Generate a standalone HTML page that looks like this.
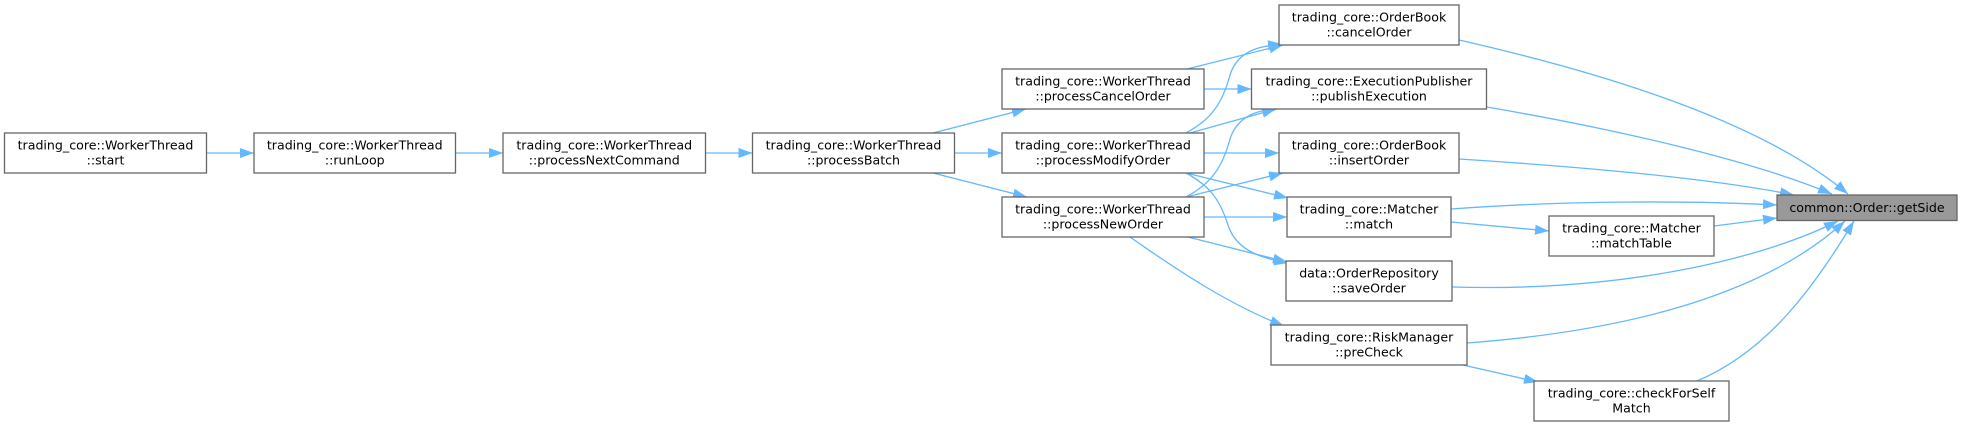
<!DOCTYPE html>
<html><head><meta charset="utf-8"><style>
html,body{margin:0;padding:0;background:#fff;}
svg{display:block;}
text{font-family:"DejaVu Sans","Liberation Sans",sans-serif;font-size:12.6px;fill:#000;text-anchor:middle;}
.b{fill:#fff;stroke:#666;stroke-width:1.3;}
.e{fill:none;stroke:#63b8ff;stroke-width:1.3;marker-end:url(#a);}
</style></head><body>
<svg width="1963" height="427" viewBox="0 0 1963 427" xmlns="http://www.w3.org/2000/svg">
<defs><marker id="a" markerUnits="userSpaceOnUse" markerWidth="15" markerHeight="11" refX="14" refY="5.5" orient="auto"><path d="M0,0.5 L14,5.5 L0,10.5z" fill="#63b8ff"/></marker></defs>

<!-- edges -->
<path class="e" d="M206.5,153 L254,153"/>
<path class="e" d="M455.5,153 L503,153"/>
<path class="e" d="M705.5,153 L752.5,153"/>
<path class="e" d="M933,133 L1026,109"/>
<path class="e" d="M954.5,153 L1002,153"/>
<path class="e" d="M933,173 L1027,197"/>
<path class="e" d="M1187,69 L1283,45"/>
<path class="e" d="M1204,89 L1251.5,89"/>
<path class="e" d="M1186,133 C1210,120 1222,105 1230,75 C1238,50 1260,46 1282,44"/>
<path class="e" d="M1190,133 L1276,109"/>
<path class="e" d="M1204,153 L1279,153"/>
<path class="e" d="M1186,173 L1288,198"/>
<path class="e" d="M1186,173 C1210,186 1220,200 1228,225 C1236,250 1260,258 1288,263"/>
<path class="e" d="M1186,197 C1210,184 1222,169 1230,139 C1238,114 1260,110 1280,108"/>
<path class="e" d="M1186,197 L1283,173"/>
<path class="e" d="M1204,217 L1287,217"/>
<path class="e" d="M1188,237 L1287,262"/>
<path class="e" d="M1130,237 C1180,272 1230,305 1284,326"/>

<path class="e" d="M1459,40 C1600,72 1760,120 1848,194"/>
<path class="e" d="M1487,107 C1620,130 1750,160 1832,194"/>
<path class="e" d="M1459,159 C1600,168 1720,180 1794,195"/>
<path class="e" d="M1451,209 C1560,201 1680,200 1777,205"/>
<path class="e" d="M1714,226 L1777,218"/>
<path class="e" d="M1451,222 L1549,231"/>
<path class="e" d="M1452,287 C1620,292 1760,260 1838,221"/>
<path class="e" d="M1467,343 C1640,330 1770,290 1845,221"/>
<path class="e" d="M1697,381 C1770,350 1815,285 1854,221"/>
<path class="e" d="M1463,365 L1538,382"/>

<!-- nodes -->
<rect class="b" x="4.5" y="133" width="202" height="40"/>
<text x="105.5" y="149.5">trading_core::WorkerThread</text><text x="105.5" y="164.5">::start</text>

<rect class="b" x="254" y="133" width="201.5" height="40"/>
<text x="354.75" y="149.5">trading_core::WorkerThread</text><text x="354.75" y="164.5">::runLoop</text>

<rect class="b" x="503" y="133" width="202.5" height="40"/>
<text x="604.25" y="149.5">trading_core::WorkerThread</text><text x="604.25" y="164.5">::processNextCommand</text>

<rect class="b" x="752.5" y="133" width="202" height="40"/>
<text x="853.5" y="149.5">trading_core::WorkerThread</text><text x="853.5" y="164.5">::processBatch</text>

<rect class="b" x="1002" y="69" width="202" height="40"/>
<text x="1103" y="85.5">trading_core::WorkerThread</text><text x="1103" y="100.5">::processCancelOrder</text>

<rect class="b" x="1002" y="133" width="202" height="40"/>
<text x="1103" y="149.5">trading_core::WorkerThread</text><text x="1103" y="164.5">::processModifyOrder</text>

<rect class="b" x="1002" y="197" width="202" height="40"/>
<text x="1103" y="213.5">trading_core::WorkerThread</text><text x="1103" y="228.5">::processNewOrder</text>

<rect class="b" x="1279" y="5" width="180" height="40"/>
<text x="1369" y="21.5">trading_core::OrderBook</text><text x="1369" y="36.5">::cancelOrder</text>

<rect class="b" x="1251.5" y="69" width="235" height="40"/>
<text x="1369" y="85.5">trading_core::ExecutionPublisher</text><text x="1369" y="100.5">::publishExecution</text>

<rect class="b" x="1279" y="133" width="180" height="40"/>
<text x="1369" y="149.5">trading_core::OrderBook</text><text x="1369" y="164.5">::insertOrder</text>

<rect class="b" x="1287" y="197" width="164" height="40"/>
<text x="1369" y="213.5">trading_core::Matcher</text><text x="1369" y="228.5">::match</text>

<rect class="b" x="1286" y="261" width="166" height="40"/>
<text x="1369" y="277.5">data::OrderRepository</text><text x="1369" y="292.5">::saveOrder</text>

<rect class="b" x="1271" y="325" width="196" height="40"/>
<text x="1369" y="341.5">trading_core::RiskManager</text><text x="1369" y="356.5">::preCheck</text>

<rect class="b" x="1549" y="216" width="165" height="40"/>
<text x="1631.5" y="232.5">trading_core::Matcher</text><text x="1631.5" y="247.5">::matchTable</text>

<rect class="b" x="1534" y="381" width="195" height="40"/>
<text x="1631.5" y="397.5">trading_core::checkForSelf</text><text x="1631.5" y="412.5">Match</text>

<rect x="1777" y="195" width="180" height="25.5" fill="#999" stroke="#666" stroke-width="1.3"/>
<text x="1867" y="212">common::Order::getSide</text>
</svg>
</body></html>
